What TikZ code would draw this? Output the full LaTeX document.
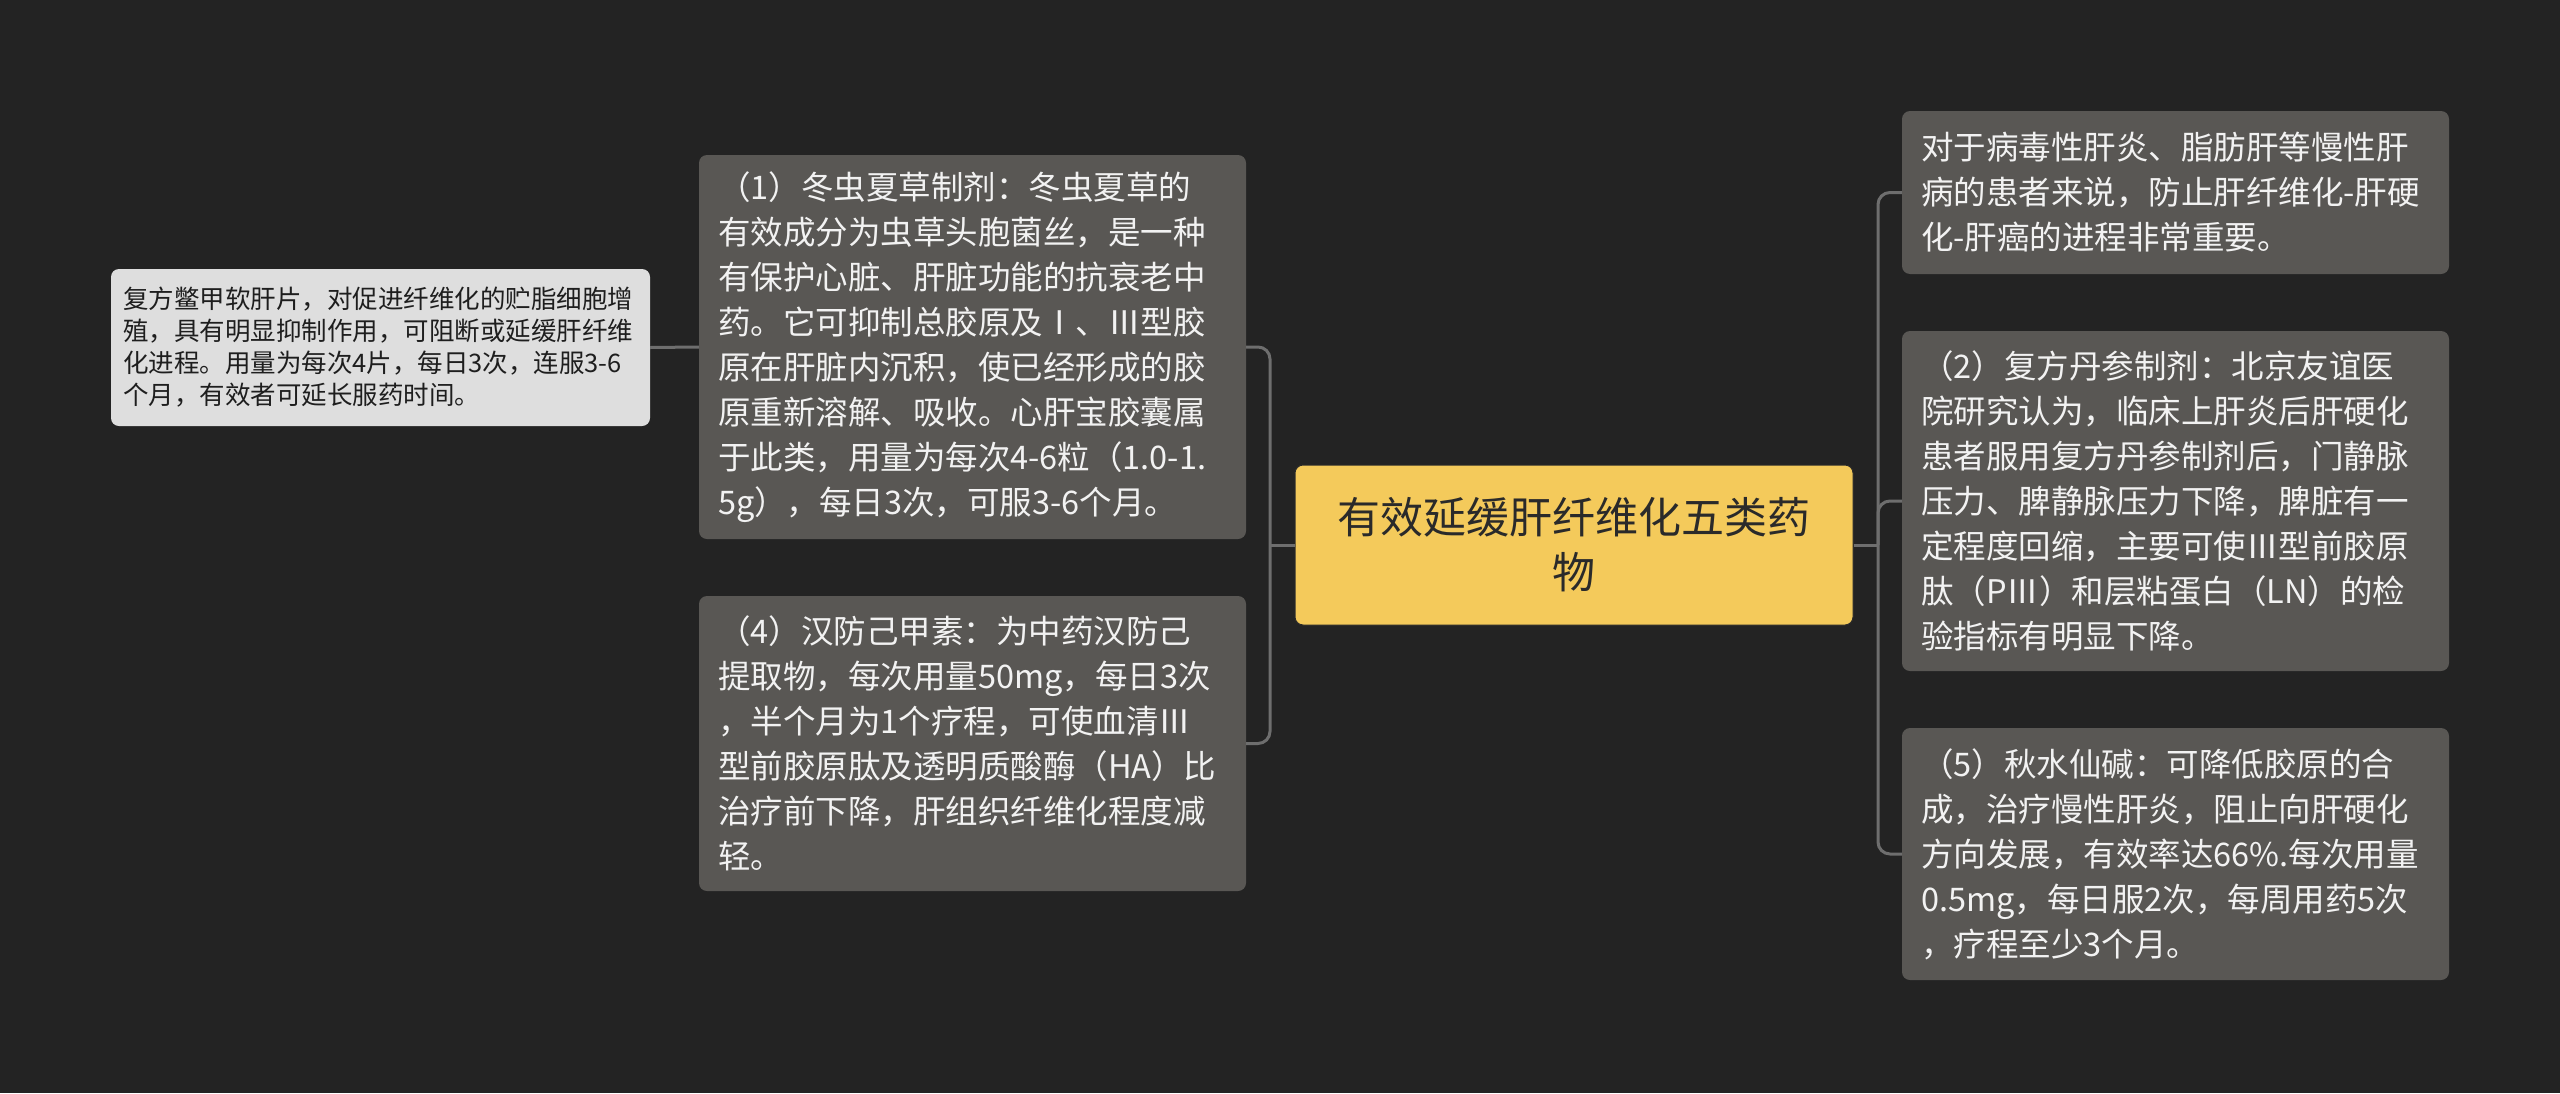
\documentclass[tikz,border=0pt]{standalone}
\usepackage{fontspec}
\newfontfamily\cjk{Noto Sans CJK SC}
\definecolor{bgc}{HTML}{232323}
\definecolor{nodegray}{HTML}{595754}
\definecolor{nodetext}{HTML}{F2F2F2}
\definecolor{rootfill}{HTML}{F4CA5B}
\definecolor{roottext}{HTML}{2A2A2A}
\definecolor{smallfill}{HTML}{DEDEDE}
\definecolor{smalltext}{HTML}{1E1E1E}
\definecolor{linec}{HTML}{6E6E6E}
\tikzset{
  box/.style={rectangle, rounded corners=8pt, fill=nodegray, text=nodetext,
    font=\cjk\fontsize{32.5}{45}\selectfont, align=left, inner xsep=19pt, inner ysep=0pt,
    minimum width=547pt, text width=509pt},
  rootbox/.style={rectangle, rounded corners=8pt, fill=rootfill, draw=roottext, line width=1pt,
    text=roottext, font=\cjk\fontsize{43}{55}\selectfont, align=center, inner sep=0pt,
    minimum width=558pt, minimum height=160pt, text width=520pt},
  smallbox/.style={rectangle, rounded corners=8pt, fill=smallfill, text=smalltext,
    font=\cjk\fontsize{25.5}{32}\selectfont, align=left, inner xsep=12pt, inner ysep=0pt,
    minimum width=539pt, minimum height=157pt, text width=515pt},
  conn/.style={draw=linec, line width=3pt, rounded corners=12pt}
}
\begin{document}
\begin{tikzpicture}[x=1pt, y=-1pt]
\fill[bgc] (0,0) rectangle (2560,1093);
\useasboundingbox (0,0) rectangle (2560,1093);

\node[rootbox] (root) at (1574,545) {有效延缓肝纤维化五类药\\物};

\node[box, minimum height=384pt] (n1) at (972.5,347) {（1）冬虫夏草制剂：冬虫夏草的\\有效成分为虫草头胞菌丝，是一种\\有保护心脏、肝脏功能的抗衰老中\\药。它可抑制总胶原及Ⅰ、Ⅲ型胶\\原在肝脏内沉积，使已经形成的胶\\原重新溶解、吸收。心肝宝胶囊属\\于此类，用量为每次4-6粒（1.0-1.\\5g），每日3次，可服3-6个月。};

\node[box, minimum height=295pt] (n4) at (972.5,743.5) {（4）汉防己甲素：为中药汉防己\\提取物，每次用量50mg，每日3次\\，半个月为1个疗程，可使血清Ⅲ\\型前胶原肽及透明质酸酶（HA）比\\治疗前下降，肝组织纤维化程度减\\轻。};

\node[smallbox] (s) at (380.5,347.5) {复方鳖甲软肝片，对促进纤维化的贮脂细胞增\\殖，具有明显抑制作用，可阻断或延缓肝纤维\\化进程。用量为每次4片，每日3次，连服3-6\\个月，有效者可延长服药时间。};

\node[box, minimum height=163pt] (r1) at (2175.5,192.5) {对于病毒性肝炎、脂肪肝等慢性肝\\病的患者来说，防止肝纤维化-肝硬\\化-肝癌的进程非常重要。};

\node[box, minimum height=340pt] (r2) at (2175.5,501) {（2）复方丹参制剂：北京友谊医\\院研究认为，临床上肝炎后肝硬化\\患者服用复方丹参制剂后，门静脉\\压力、脾静脉压力下降，脾脏有一\\定程度回缩，主要可使Ⅲ型前胶原\\肽（PⅢ）和层粘蛋白（LN）的检\\验指标有明显下降。};

\node[box, minimum height=252pt] (r5) at (2175.5,854) {（5）秋水仙碱：可降低胶原的合\\成，治疗慢性肝炎，阻止向肝硬化\\方向发展，有效率达66\%.每次用量\\0.5mg，每日服2次，每周用药5次\\，疗程至少3个月。};

\coordinate (lb) at (1270,545);
\coordinate (rb) at (1878,545);

\draw[conn] (n1.east) -| (lb) |- (n4.east);
\draw[conn] (root.west) -- (lb);
\draw[conn] (r1.west) -| (rb) |- (r5.west);
\draw[conn] (root.east) -- (rb);
\draw[conn] (rb) |- (r2.west);
\draw[conn] (n1.west) -- (s.east);
\end{tikzpicture}
\end{document}
